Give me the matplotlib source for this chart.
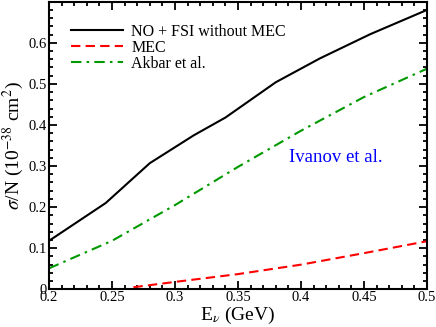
import numpy as np
import matplotlib
matplotlib.use("Agg")
from matplotlib import pyplot as plt
from matplotlib.ticker import MultipleLocator

# values
e_nofsi = [0.2, 0.245, 0.28, 0.315, 0.34, 0.38, 0.415, 0.455, 0.5]
s_nofsi = [0.118, 0.21, 0.307, 0.375, 0.418, 0.504, 0.562, 0.621, 0.68]

e_mec = [0.267, 0.3, 0.35, 0.4, 0.45, 0.5]
s_mec = [0.005, 0.018, 0.037, 0.06, 0.088, 0.117]

e_akbar = [0.2, 0.25, 0.3, 0.35, 0.4, 0.45, 0.5]
s_akbar = [0.051, 0.118, 0.205, 0.298, 0.386, 0.468, 0.537]

xticks = [0.2, 0.25, 0.3, 0.35, 0.4, 0.45, 0.5]
xlabels = ['0.2', '0.25', '0.3', '0.35', '0.4', '0.45', '0.5']
yticks = [0, 0.1, 0.2, 0.3, 0.4, 0.5, 0.6]
ylabels = ['0', '0.1', '0.2', '0.3', '0.4', '0.5', '0.6']

plt.rcParams['font.family'] = ['Liberation Serif', 'DejaVu Serif']
plt.rcParams['mathtext.fontset'] = 'stix'

fig = plt.figure(figsize=(4.36, 3.27), dpi=100)
ax = fig.add_axes([0.1124, 0.1153, 0.867, 0.8795])

ax.plot(e_nofsi, s_nofsi, color='black', lw=1.5, label='NO + FSI without MEC')
ax.plot(e_mec, s_mec, color='red', lw=1.5, dashes=(4.5, 2.5), label='MEC')
ax.plot(e_akbar, s_akbar, color='#009900', lw=1.5, dashes=(5, 2.5, 1.2, 2.5), label='Akbar et al.')

ax.set_xlim(0.2, 0.5)
ax.set_ylim(0, 0.7)
ax.set_xticks(xticks)
ax.set_xticklabels(xlabels)
ax.xaxis.set_minor_locator(MultipleLocator(0.01))
ax.set_yticks(yticks)
ax.set_yticklabels(ylabels)
ax.yaxis.set_minor_locator(MultipleLocator(0.02))

ax.tick_params(which='both', direction='in', top=True, right=True, width=1.3, labelsize=10.5)
ax.tick_params(which='major', length=6, pad=1.5)
ax.tick_params(which='minor', length=3)
for s in ax.spines.values():
    s.set_linewidth(1.5)

ax.set_xlabel(r'E$_\nu$ (GeV)', fontsize=14, labelpad=0)
ax.set_ylabel(r'$\sigma$/N (10$^{-38}$ cm$^2$)', fontsize=14, labelpad=2)

ax.legend(loc='upper left', bbox_to_anchor=(0.04, 0.945), frameon=False, fontsize=11.5,
          handlelength=3.3, handletextpad=0.5, labelspacing=0.0, borderaxespad=0)

ax.text(0.3905, 0.32, 'Ivanov et al.', color='blue', fontsize=13.5, ha='left', va='center')

fig.savefig('out.png', dpi=100)
